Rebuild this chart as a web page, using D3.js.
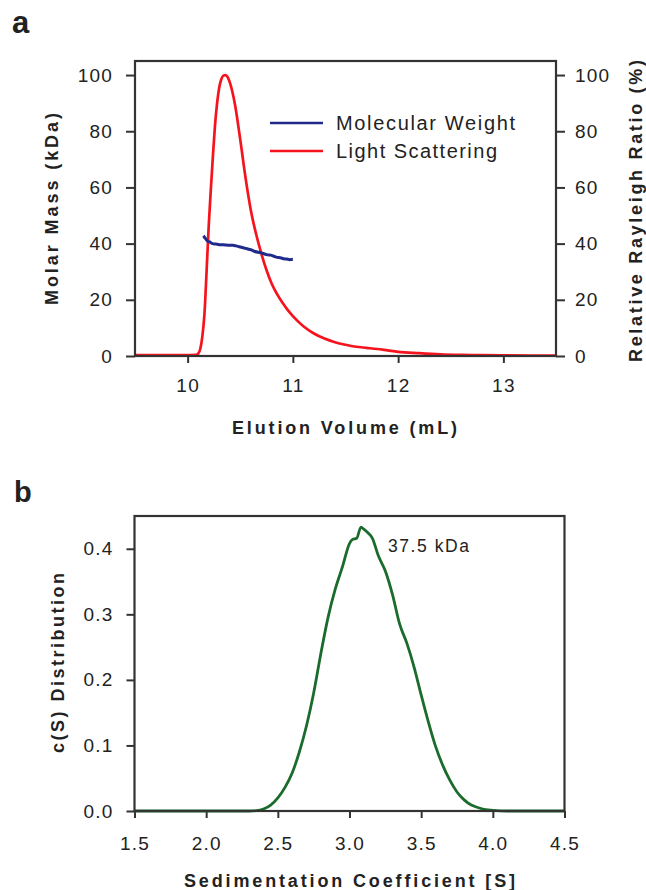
<!DOCTYPE html>
<html lang="en">
<head>
<meta charset="utf-8">
<title>SEC-MALS and c(S)</title>
<script src="https://cdn.jsdelivr.net/npm/d3@7"></script>
<style>
  body { margin: 0; background: #fff; }
  svg text { font-family: "Liberation Sans", Arial, sans-serif; fill: #222; }
</style>
</head>
<body>
<script>
// panel a: light scattering (right axis, %) and molecular weight (left axis, kDa)
var lsX = [9.5, 9.8, 10.0, 10.08, 10.1, 10.12, 10.14, 10.16, 10.18, 10.2, 10.22, 10.24, 10.26, 10.28, 10.3,
           10.32, 10.34, 10.36, 10.38, 10.4, 10.45, 10.5, 10.55, 10.6, 10.65, 10.7,
           10.75, 10.8, 10.85, 10.9, 10.95, 11.0, 11.1, 11.2, 11.3, 11.4, 11.5, 11.6, 11.7, 11.8, 11.9,
           12.0, 12.2, 12.4, 12.6, 12.8, 13.0, 13.5];
var lsY = [0.3, 0.3, 0.35, 0.4, 0.8, 2.5, 7, 15, 30, 46, 59, 71, 82, 90, 95.5,
           98.5, 99.8, 100, 99.3, 97.5, 89.5, 77, 63.5, 52, 43.5, 36.5,
           30.5, 25.6, 22.0, 19.0, 16.4, 14.2, 10.6, 8.0, 6.2, 4.9, 4.0, 3.3, 2.9, 2.5, 2.0,
           1.5, 1.0, 0.6, 0.4, 0.3, 0.2, 0.15];
var mwX = [10.15, 10.17, 10.19, 10.21, 10.23, 10.25, 10.28, 10.31, 10.34, 10.37, 10.40, 10.43, 10.46, 10.49,
           10.52, 10.55, 10.58, 10.61, 10.64, 10.67, 10.70, 10.73, 10.76, 10.79, 10.82, 10.85, 10.88, 10.91,
           10.94, 10.97, 11.0];
var mwY = [42.8, 41.8, 40.9, 40.6, 40.1, 39.9, 39.8, 39.6, 39.6, 39.5, 39.4, 39.4, 39.2, 38.9,
           38.6, 38.3, 38.0, 37.7, 37.2, 36.9, 36.7, 36.3, 36.0, 35.9, 35.5, 35.1, 35.0, 34.6,
           34.5, 34.3, 34.4];
var aXTicks = [10, 11, 12, 13];
var aYTicks = [0, 20, 40, 60, 80, 100];

// panel b: c(S) distribution
var sX = [1.5, 2.0, 2.3, 2.35, 2.4, 2.45, 2.5, 2.55, 2.6, 2.65, 2.7, 2.75, 2.8, 2.85, 2.9, 2.95, 3.0,
          3.02, 3.05, 3.08, 3.1, 3.13, 3.16, 3.2, 3.25, 3.3, 3.35, 3.4, 3.45, 3.5, 3.55, 3.6, 3.65,
          3.7, 3.75, 3.8, 3.85, 3.9, 3.95, 4.0, 4.1, 4.5];
var sY = [0, 0, 0, 0.0005, 0.003, 0.009, 0.02, 0.036, 0.058, 0.09, 0.13, 0.18, 0.24, 0.295, 0.338, 0.372, 0.408,
          0.414, 0.416, 0.433, 0.430, 0.424, 0.416, 0.39, 0.366, 0.33, 0.285, 0.256, 0.22, 0.177, 0.136, 0.099, 0.07,
          0.047, 0.029, 0.017, 0.009, 0.005, 0.002, 0.001, 0, 0];
var bXTicks = [1.5, 2.0, 2.5, 3.0, 3.5, 4.0, 4.5];
var bYTicks = [0, 0.1, 0.2, 0.3, 0.4];

var svg = d3.select("body").append("svg")
    .attr("width", 646)
    .attr("height", 890);

function zip(xs, ys) { return xs.map(function(x, i) { return [x, ys[i]]; }); }

function styleAxis(g) {
    g.select(".domain").remove();
    g.selectAll(".tick line").attr("stroke", "#333").attr("stroke-width", 2);
    g.selectAll(".tick text")
        .attr("font-size", "19px")
        .attr("letter-spacing", "1.2px")
        .attr("fill", "#1a1a1a");
}

// ---------- panel a ----------
var ax = d3.scaleLinear().domain([9.5, 13.5]).range([135, 556]);
var ay = d3.scaleLinear().domain([0, 105]).range([356, 61]);

svg.append("text").text("a").attr("x", 12).attr("y", 33)
    .attr("font-size", "31px").attr("font-weight", "bold").attr("fill", "#111");

svg.append("g").attr("transform", "translate(0,356)")
    .call(d3.axisBottom(ax).tickValues(aXTicks).tickSize(7).tickSizeOuter(0).tickPadding(16)
        .tickFormat(d3.format("d")))
    .call(styleAxis);
svg.append("g").attr("transform", "translate(135,0)")
    .call(d3.axisLeft(ay).tickValues(aYTicks).tickSize(9).tickSizeOuter(0).tickPadding(13))
    .call(styleAxis);
svg.append("g").attr("transform", "translate(556,0)")
    .call(d3.axisRight(ay).tickValues(aYTicks).tickSize(9).tickSizeOuter(0).tickPadding(10))
    .call(styleAxis);

var lineA = d3.line().x(function(d) { return ax(d[0]); }).y(function(d) { return ay(d[1]); })
    .curve(d3.curveMonotoneX);

svg.append("path").datum(zip(lsX, lsY)).attr("d", lineA)
    .attr("fill", "none").attr("stroke", "#f5141e").attr("stroke-width", 2.7);
svg.append("path").datum(zip(mwX, mwY)).attr("d", lineA)
    .attr("fill", "none").attr("stroke", "#1f2a8c").attr("stroke-width", 3);

svg.append("rect").attr("x", 135).attr("y", 61).attr("width", 421).attr("height", 295)
    .attr("fill", "none").attr("stroke", "#333").attr("stroke-width", 2.2);

// legend
var legend = [
    { label: "Molecular Weight", color: "#1f2a8c", y: 123, w: 179 },
    { label: "Light Scattering", color: "#f5141e", y: 151, w: 161 }
];
legend.forEach(function(l) {
    svg.append("line").attr("x1", 270).attr("x2", 323).attr("y1", l.y).attr("y2", l.y)
        .attr("stroke", l.color).attr("stroke-width", 2.6);
    svg.append("text").text(l.label).attr("x", 336).attr("y", l.y + 7)
        .attr("font-size", "20px").attr("textLength", l.w).attr("lengthAdjust", "spacing");
});

svg.append("text").text("Elution Volume (mL)")
    .attr("x", 232).attr("y", 434)
    .attr("font-size", "18px").attr("font-weight", "bold")
    .attr("textLength", 225).attr("lengthAdjust", "spacing");
svg.append("text").text("Molar Mass (kDa)")
    .attr("transform", "translate(58,305) rotate(-90)")
    .attr("font-size", "18px").attr("font-weight", "bold")
    .attr("textLength", 192).attr("lengthAdjust", "spacing");
svg.append("text").text("Relative Rayleigh Ratio (%)")
    .attr("transform", "translate(642,362) rotate(-90)")
    .attr("font-size", "18px").attr("font-weight", "bold")
    .attr("textLength", 302).attr("lengthAdjust", "spacing");

// ---------- panel b ----------
var bx = d3.scaleLinear().domain([1.5, 4.5]).range([134.5, 564.5]);
var by = d3.scaleLinear().domain([0, 0.45]).range([811, 516]);

svg.append("text").text("b").attr("x", 14).attr("y", 502)
    .attr("font-size", "29px").attr("font-weight", "bold").attr("fill", "#111");

svg.append("g").attr("transform", "translate(0,811)")
    .call(d3.axisBottom(bx).tickValues(bXTicks).tickSize(7).tickSizeOuter(0).tickPadding(19)
        .tickFormat(d3.format(".1f")))
    .call(styleAxis);
svg.append("g").attr("transform", "translate(134.5,0)")
    .call(d3.axisLeft(by).tickValues(bYTicks).tickSize(8).tickSizeOuter(0).tickPadding(13)
        .tickFormat(d3.format(".1f")))
    .call(styleAxis);

var lineB = d3.line().x(function(d) { return bx(d[0]); }).y(function(d) { return by(d[1]); })
    .curve(d3.curveMonotoneX);
svg.append("path").datum(zip(sX, sY)).attr("d", lineB)
    .attr("fill", "none").attr("stroke", "#1a6b2c").attr("stroke-width", 2.8);

svg.append("rect").attr("x", 134.5).attr("y", 516).attr("width", 430).attr("height", 295)
    .attr("fill", "none").attr("stroke", "#333").attr("stroke-width", 2.2);

svg.append("text").text("37.5 kDa").attr("x", 388).attr("y", 552)
    .attr("font-size", "17.5px").attr("textLength", 81).attr("lengthAdjust", "spacing");

svg.append("text").text("Sedimentation Coefficient [S]")
    .attr("x", 184).attr("y", 887)
    .attr("font-size", "18px").attr("font-weight", "bold")
    .attr("textLength", 331).attr("lengthAdjust", "spacing");
svg.append("text").text("c(S) Distribution")
    .attr("transform", "translate(64,753) rotate(-90)")
    .attr("font-size", "18px").attr("font-weight", "bold")
    .attr("textLength", 180).attr("lengthAdjust", "spacing");
</script>
</body>
</html>
